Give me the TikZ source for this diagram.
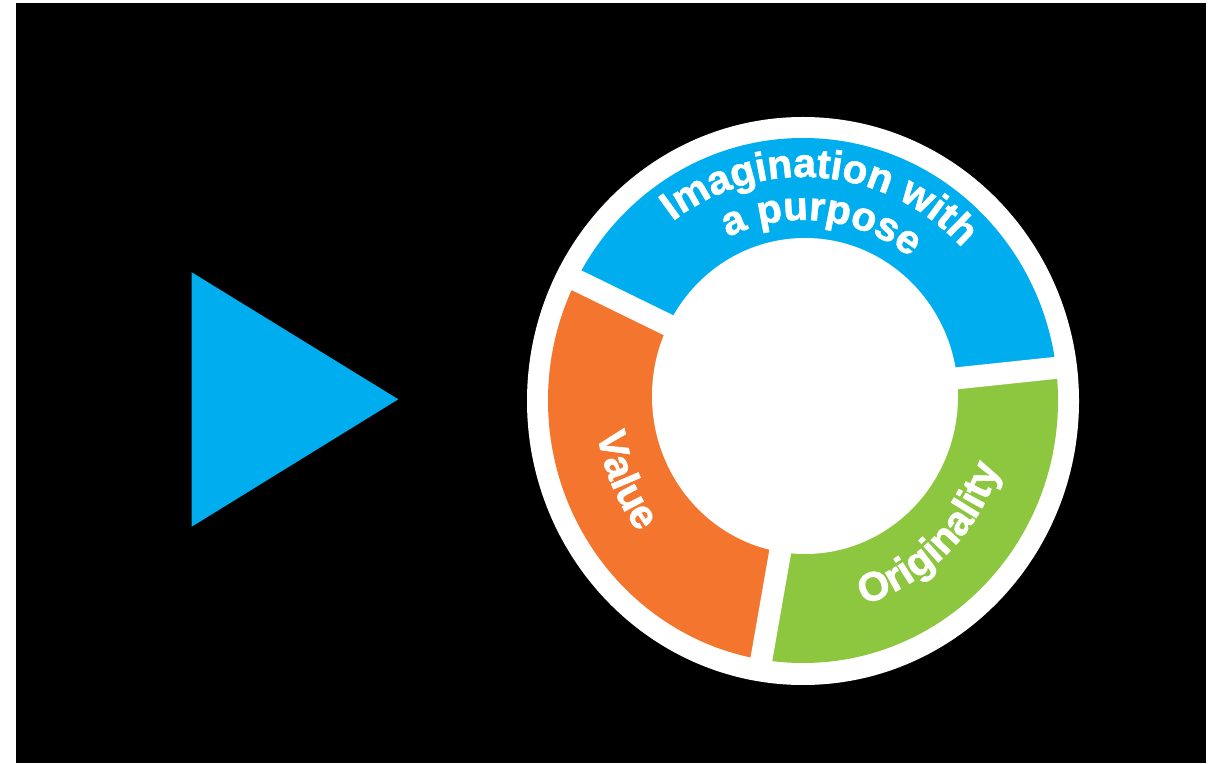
\documentclass[tikz,border=0pt]{standalone}
\usepackage{fontspec}
\setmainfont{Liberation Sans}
\newfontfamily\heavy[BoldFeatures={FakeBold=1.6}]{Liberation Sans}
\usetikzlibrary{decorations.text}
\definecolor{cblue}{RGB}{0,174,239}
\definecolor{corange}{RGB}{244,118,46}
\definecolor{cgreen}{RGB}{141,198,63}
\tikzset{
  ringtext/.style={decorate, decoration={text along path, text align=center, text color=white, text={#1}}},
  gapline/.style={draw=white, line width=22pt, line cap=butt}
}
\newcommand{\lbl}{\heavy\fontsize{40.5}{43}\selectfont\bfseries}
\begin{document}
\begin{tikzpicture}[x=1pt,y=1pt]
\useasboundingbox (0,0) rectangle (1217,763);
\fill[white] (0,0) rectangle (1217,763);
\fill[black] (16,0) rectangle (1206,760);
% triangle
\fill[cblue] (191.7,490.7) -- (191.7,236.3) -- (398.3,363.7) -- cycle;
% outer white disc
\fill[white] (803,362) ellipse[x radius=276, y radius=284];
% coloured ring
\begin{scope}
  \clip (803,362.5) ellipse[x radius=255, y radius=262.5];
  \coordinate (P) at (800,360);
  \coordinate (A1) at (900,378.7); \coordinate (A2) at (1065,396.1); \coordinate (A3) at (1200,410.3);
  \coordinate (B1) at (700,422.4); \coordinate (B2) at (567,487.4); \coordinate (B3) at (450,544.6);
  \coordinate (D1) at (790,267.3); \coordinate (D2) at (759.85,95); \coordinate (D3) at (736.7,-37);
  \fill[cblue] (P) -- (A1) -- (A3) -- (1200,1000) -- (400,1000) -- (B3) -- (B1) -- cycle;
  \fill[corange] (P) -- (B1) -- (B3) -- (400,-200) -- (D3) -- (D1) -- cycle;
  \fill[cgreen] (P) -- (D1) -- (D3) -- (1200,-200) -- (A3) -- (A1) -- cycle;
\end{scope}
\draw[gapline] (A1) -- (A2);
\draw[gapline] (B1) -- (B2);
\draw[gapline] (D1) -- (D2);
\fill[white] (805,367) ellipse[x radius=153, y radius=158];
% labels
\path[ringtext={|\lbl|Imagination with}] (803,362) ++(170:218 and 224) arc[start angle=170, end angle=0, x radius=218, y radius=224];
\path[ringtext={|\lbl|a purpose}] (803,362) ++(162:176 and 181) arc[start angle=162, end angle=6, x radius=176, y radius=181];
\path[ringtext={|\lbl|Value}] (803,362) ++(165:208 and 214) arc[start angle=165, end angle=242, x radius=208, y radius=214];
\path[ringtext={|\lbl|Originality}] (803,362) ++(-108:207 and 213) arc[start angle=-108, end angle=16, x radius=207, y radius=213];
\end{tikzpicture}
\end{document}
